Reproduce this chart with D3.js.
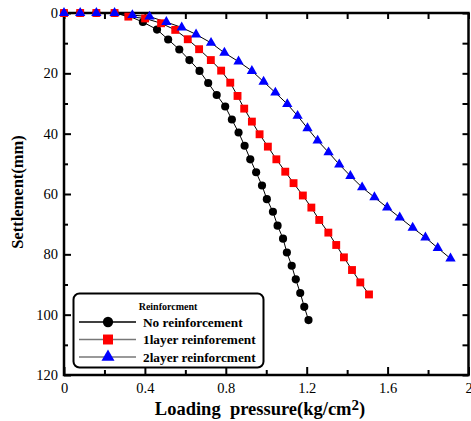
<!DOCTYPE html>
<html>
<head>
<meta charset="utf-8">
<script src="https://cdn.jsdelivr.net/npm/d3@7"></script>
<style>
  body { margin: 0; background: #fff; }
  svg { display: block; }
  svg text { font-family: "Liberation Serif", "Times New Roman", serif; }
</style>
</head>
<body>
<svg id="chart" width="471" height="421"></svg>
<script>
//Data (loading pressure in kg/cm2, settlement in mm)
const noReinfPressure = [0, 0.08, 0.16, 0.25, 0.32, 0.39, 0.46, 0.515, 0.57, 0.62, 0.67, 0.713, 0.755, 0.797, 0.83, 0.863, 0.893, 0.921, 0.95, 0.979, 1.003, 1.033, 1.056, 1.083, 1.102, 1.126, 1.146, 1.168, 1.188, 1.209];
const noReinfSettlement = [0, 0, 0, 0, 1.0, 3.0, 5.5, 8.8, 12.1, 15.6, 19.2, 23.2, 27.2, 31.0, 35.3, 39.6, 44.0, 48.5, 52.8, 57.2, 61.7, 65.9, 70.5, 74.8, 79.4, 83.8, 88.3, 92.8, 97.4, 101.8];

const oneLayerPressure = [0, 0.08, 0.16, 0.25, 0.318, 0.401, 0.48, 0.55, 0.612, 0.668, 0.726, 0.777, 0.822, 0.858, 0.891, 0.929, 0.967, 1.008, 1.05, 1.094, 1.135, 1.181, 1.223, 1.262, 1.307, 1.346, 1.384, 1.424, 1.465, 1.508];
const oneLayerSettlement = [0, 0, 0, 0, 1.2, 1.8, 3.4, 5.6, 8.7, 12.0, 15.6, 19.1, 23.1, 27.5, 31.7, 36.0, 40.2, 44.3, 48.5, 52.6, 56.4, 60.5, 64.5, 68.6, 72.8, 76.9, 81.0, 85.2, 89.3, 93.3];

const twoLayerPressure = [0, 0.08, 0.16, 0.25, 0.338, 0.423, 0.506, 0.582, 0.653, 0.727, 0.793, 0.863, 0.929, 0.987, 1.045, 1.104, 1.155, 1.204, 1.254, 1.308, 1.361, 1.416, 1.474, 1.535, 1.598, 1.66, 1.724, 1.787, 1.848, 1.911];
const twoLayerSettlement = [0, 0, 0, 0, 0.7, 1.2, 3.0, 4.8, 7.1, 9.9, 13.2, 16.1, 19.2, 22.8, 26.4, 30.2, 34.1, 38.2, 42.3, 46.2, 50.2, 54.0, 57.8, 61.1, 64.5, 67.8, 71.2, 74.4, 77.9, 81.4];

const seriesNames = ["No reinforcement", "1layer reinforement", "2layer reinforcment"];
const legendTitle = "Reinforcment";
const xTicks = [0, 0.4, 0.8, 1.2, 1.6, 2];
const xMinorTicks = [0.2, 0.6, 1.0, 1.4, 1.8];
const yTicks = [0, 20, 40, 60, 80, 100, 120];
const yMinorTicks = [10, 30, 50, 70, 90, 110];

const serif = "Liberation Serif, Times New Roman, serif";

let svg = d3.select("#chart"),
    plotLeft = 64, plotRight = 468.5, plotTop = 13, plotBottom = 375;

let x = d3.scaleLinear().domain([0, 2]).range([plotLeft, plotRight]),
    y = d3.scaleLinear().domain([0, 120]).range([plotTop, plotBottom]);

//Build one table per series from the arrays above
let series = [
  {name: seriesNames[0], color: "#000", legendLine: "#000", symbol: d3.symbolCircle, size: 52,
   data: noReinfPressure.map((p, i) => ({p: p, s: noReinfSettlement[i]}))},
  {name: seriesNames[1], color: "#ff0000", legendLine: "#777", symbol: d3.symbolSquare, size: 62,
   data: oneLayerPressure.map((p, i) => ({p: p, s: oneLayerSettlement[i]}))},
  {name: seriesNames[2], color: "#0000ff", legendLine: "#777", symbol: d3.symbolTriangle, size: 46,
   data: twoLayerPressure.map((p, i) => ({p: p, s: twoLayerSettlement[i]}))}
];

let fmt = d => String(+d.toFixed(1));

//Axes, ticks pointing inward
function styleAxis(g) {
  g.attr("font-family", serif);
  g.select(".domain").remove();
  g.selectAll(".tick line").attr("stroke", "#000").attr("stroke-width", 2);
  g.selectAll(".tick text").attr("fill", "#000").attr("font-size", 14.5).attr("font-family", serif);
}

svg.append("g").attr("transform", "translate(0," + plotBottom + ")")
   .call(d3.axisBottom(x).tickValues(xTicks).tickFormat(fmt).tickSize(-8).tickPadding(8)).call(styleAxis);
svg.append("g").attr("transform", "translate(0," + plotBottom + ")")
   .call(d3.axisBottom(x).tickValues(xMinorTicks).tickFormat("").tickSize(-5)).call(styleAxis);
svg.append("g").attr("transform", "translate(" + plotLeft + ",0)")
   .call(d3.axisLeft(y).tickValues(yTicks).tickSize(-7).tickPadding(6)).call(styleAxis);
svg.append("g").attr("transform", "translate(" + plotLeft + ",0)")
   .call(d3.axisLeft(y).tickValues(yMinorTicks).tickFormat("").tickSize(-4)).call(styleAxis);
svg.append("g").attr("transform", "translate(0," + plotTop + ")")
   .call(d3.axisTop(x).tickValues(xTicks.concat(xMinorTicks)).tickFormat("").tickSize(-6)).call(styleAxis);
svg.append("g").attr("transform", "translate(" + plotRight + ",0)")
   .call(d3.axisRight(y).tickValues(yTicks.concat(yMinorTicks)).tickFormat("").tickSize(-6)).call(styleAxis);

//Frame
svg.append("rect")
   .attr("x", plotLeft).attr("y", plotTop)
   .attr("width", plotRight - plotLeft).attr("height", plotBottom - plotTop)
   .attr("fill", "none").attr("stroke", "#000").attr("stroke-width", 2.5);

//Lines and markers
let line = d3.line().x(d => x(d.p)).y(d => y(d.s));
series.forEach(function(sr) {
  svg.append("path").datum(sr.data)
     .attr("d", line).attr("fill", "none").attr("stroke", "#000").attr("stroke-width", 1);
});
series.forEach(function(sr) {
  svg.append("g").selectAll("path").data(sr.data).enter().append("path")
     .attr("transform", d => "translate(" + x(d.p) + "," + y(d.s) + ")")
     .attr("d", d3.symbol().type(sr.symbol).size(sr.size))
     .attr("fill", sr.color);
});

//Legend
let legend = svg.append("g").attr("font-family", serif);
legend.append("rect")
   .attr("x", 73.5).attr("y", 293.5).attr("width", 190).attr("height", 74)
   .attr("rx", 6).attr("fill", "#fff").attr("stroke", "#000").attr("stroke-width", 2);
legend.append("text")
   .attr("x", 168).attr("y", 309.5).attr("text-anchor", "middle").attr("font-family", serif)
   .attr("font-size", 10).attr("font-weight", "bold").text(legendTitle);
series.forEach(function(sr, i) {
  let ly = 322 + i * 17.5;
  legend.append("line").attr("x1", 79).attr("x2", 136).attr("y1", ly).attr("y2", ly)
     .attr("stroke", sr.legendLine).attr("stroke-width", 1.3);
  legend.append("path").attr("transform", "translate(108," + ly + ")")
     .attr("d", d3.symbol().type(sr.symbol).size(sr.size * 1.6)).attr("fill", sr.color);
  legend.append("text").attr("x", 143).attr("y", ly + 4.5).attr("font-family", serif)
     .attr("font-size", 13.3).attr("font-weight", "bold").text(sr.name);
});

//Axis titles
let xt = svg.append("text")
   .attr("x", 260).attr("y", 415).attr("text-anchor", "middle").attr("font-family", serif)
   .attr("font-size", 18.5).attr("font-weight", "bold").style("white-space", "pre");
xt.append("tspan").text("Loading  pressure(kg/cm");
xt.append("tspan").attr("dy", -5).attr("font-size", 15).text("2");
xt.append("tspan").attr("dy", 5).text(")");

svg.append("text")
   .attr("transform", "translate(23,192) rotate(-90)")
   .attr("text-anchor", "middle").attr("font-family", serif)
   .attr("font-size", 16.5).attr("font-weight", "bold").text("Settlement(mm)");
</script>
</body>
</html>
